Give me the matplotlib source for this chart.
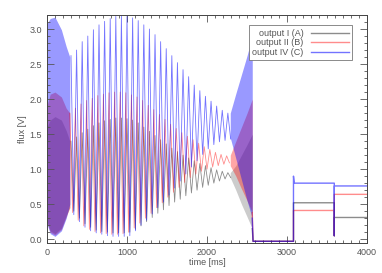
import numpy as np
import matplotlib
matplotlib.use("Agg")
import matplotlib.pyplot as plt
from matplotlib.ticker import MultipleLocator

# oscillation: peak times [ms] and trough times (half a period later)
peak_t = [300, 370, 440, 510, 580, 650, 720, 790, 860, 930, 1000, 1070, 1140, 1210, 1280,
          1350, 1420, 1490, 1560, 1630, 1700, 1770, 1840, 1910, 1980, 2050, 2120, 2190, 2260]
trough_t = [335, 405, 475, 545, 615, 685, 755, 825, 895, 965, 1035, 1105, 1175, 1245, 1315,
            1385, 1455, 1525, 1595, 1665, 1735, 1805, 1875, 1945, 2015, 2085, 2155, 2225, 2295]

blue_peak = [2.62, 2.70, 2.82, 2.90, 2.99, 3.06, 3.11, 3.15, 3.18, 3.19, 3.18, 3.16, 3.12, 3.06, 3.00,
             2.92, 2.82, 2.72, 2.62, 2.52, 2.42, 2.32, 2.20, 2.12, 2.04, 1.97, 1.90, 1.84, 1.80]
blue_trough = [0.35, 0.25, 0.17, 0.12, 0.09, 0.07, 0.05, 0.04, 0.04, 0.04, 0.05, 0.12, 0.20, 0.27, 0.36,
               0.45, 0.53, 0.63, 0.73, 0.83, 0.93, 1.03, 1.12, 1.21, 1.29, 1.35, 1.39, 1.41, 1.43]
red_peak = [1.80, 1.87, 1.93, 1.98, 2.01, 2.05, 2.07, 2.09, 2.10, 2.10, 2.09, 2.06, 2.03, 1.98, 1.91,
            1.85, 1.78, 1.71, 1.64, 1.58, 1.52, 1.47, 1.42, 1.37, 1.32, 1.28, 1.24, 1.21, 1.19]
red_trough = [0.38, 0.27, 0.19, 0.14, 0.11, 0.09, 0.08, 0.07, 0.07, 0.08, 0.10, 0.16, 0.23, 0.30, 0.37,
              0.45, 0.52, 0.60, 0.67, 0.74, 0.81, 0.88, 0.93, 0.97, 1.00, 1.03, 1.05, 1.07, 1.09]
black_peak = [1.40, 1.46, 1.52, 1.57, 1.62, 1.66, 1.69, 1.71, 1.73, 1.73, 1.72, 1.70, 1.66, 1.60, 1.54,
              1.48, 1.42, 1.36, 1.30, 1.25, 1.20, 1.16, 1.12, 1.08, 1.05, 1.02, 0.99, 0.97, 0.95]
black_trough = [0.40, 0.30, 0.22, 0.17, 0.13, 0.11, 0.10, 0.09, 0.09, 0.09, 0.10, 0.14, 0.19, 0.25, 0.31,
                0.37, 0.42, 0.48, 0.53, 0.57, 0.62, 0.66, 0.70, 0.74, 0.77, 0.80, 0.83, 0.86, 0.88]

# dense part at the start (envelopes)
wash_t = [0, 40, 100, 180, 240, 285]
blue_wash_top = [3.08, 3.15, 3.17, 2.99, 2.75, 2.60]
blue_wash_bot = [0.22, 0.08, 0.04, 0.12, 0.30, 0.50]
red_wash_top = [1.91, 2.07, 2.10, 2.03, 1.87, 1.80]
red_wash_bot = [0.24, 0.10, 0.06, 0.14, 0.32, 0.45]
black_wash_top = [1.60, 1.70, 1.75, 1.70, 1.55, 1.40]
black_wash_bot = [0.26, 0.12, 0.08, 0.16, 0.34, 0.45]

# dense part before the drop (envelopes)
wedge_t = [2290, 2360, 2430, 2500, 2565]
blue_wedge_top = [1.80, 2.08, 2.35, 2.62, 2.90]
blue_wedge_bot = [1.45, 1.15, 0.85, 0.55, 0.30]
red_wedge_top = [1.20, 1.40, 1.60, 1.80, 2.00]
red_wedge_bot = [1.05, 0.90, 0.72, 0.55, 0.38]
black_wedge_top = [0.95, 1.05, 1.20, 1.35, 1.50]
black_wedge_bot = [0.88, 0.70, 0.50, 0.32, 0.15]

# end: off, then two steady levels
tail_t = [2565, 2575, 3080, 3080, 3090, 3590, 3590, 3590, 4000]
blue_tail = [0.30, -0.03, -0.03, 0.90, 0.80, 0.80, 0.05, 0.76, 0.76]
red_tail = [0.38, -0.03, -0.03, 0.41, 0.41, 0.41, 0.05, 0.64, 0.64]
black_tail = [0.15, -0.03, -0.03, 0.52, 0.52, 0.52, 0.05, 0.31, 0.31]

series = [
    ("output I (A)", "black", 0.45, 0.2, 0, black_peak, black_trough, black_wash_top, black_wash_bot,
     black_wedge_top, black_wedge_bot, black_tail),
    ("output II (B)", "red", 0.45, 0.35, -15, red_peak, red_trough, red_wash_top, red_wash_bot,
     red_wedge_top, red_wedge_bot, red_tail),
    ("output IV (C)", "blue", 0.55, 0.4, 0, blue_peak, blue_trough, blue_wash_top, blue_wash_bot,
     blue_wedge_top, blue_wedge_bot, blue_tail),
]

plt.rcParams['font.family'] = ['Liberation Sans', 'DejaVu Sans']
fig = plt.figure(figsize=(3.82, 2.73), dpi=100)
ax = fig.add_axes([0.123, 0.111, 0.838, 0.834])

grey = "#555555"
for name, col, a, fa, dt, pk, tr, wt, wb, et, eb, tail in series:
    t = np.empty(2 * len(peak_t))
    v = np.empty(2 * len(peak_t))
    t[0::2] = np.array(peak_t) + dt
    t[1::2] = np.array(trough_t) + dt
    v[0::2] = pk
    v[1::2] = tr
    ax.fill_between(wash_t, wb, wt, color=col, alpha=fa, lw=0)
    ax.fill_between(wedge_t, eb, et, color=col, alpha=fa, lw=0)
    ax.plot(t, v, color=col, alpha=a, lw=0.6)
    ax.plot(tail_t, tail, color=col, alpha=a, lw=1.0, label=name)

ax.set_xlim(0, 4000)
ax.set_ylim(-0.05, 3.2)
ax.xaxis.set_major_locator(MultipleLocator(1000))
ax.xaxis.set_minor_locator(MultipleLocator(100))
ax.yaxis.set_major_locator(MultipleLocator(0.5))
ax.yaxis.set_minor_locator(MultipleLocator(0.1))
ax.yaxis.set_major_formatter(lambda y, p: f"{y:.1f}")
ax.tick_params(which="both", direction="in", top=True, right=True, colors=grey,
               labelsize=6.5, width=0.6)
ax.tick_params(which="major", length=5)
ax.tick_params(which="minor", length=2.5)
for s in ax.spines.values():
    s.set_color("#444444")
    s.set_linewidth(0.7)

ax.set_xlabel("time [ms]", fontsize=6.5, color=grey, labelpad=1)
ax.set_ylabel("flux [V]", fontsize=6.5, color=grey, labelpad=2)

leg = ax.legend(loc="upper right", bbox_to_anchor=(0.968, 0.975), markerfirst=False,
                fontsize=6.5, fancybox=False, edgecolor="#777777", framealpha=1,
                handlelength=4.2, handletextpad=0.8, borderpad=0.4, labelspacing=0.05)
leg.get_frame().set_linewidth(0.6)
for txt in leg.get_texts():
    txt.set_color(grey)

fig.savefig("out.png", dpi=100)
